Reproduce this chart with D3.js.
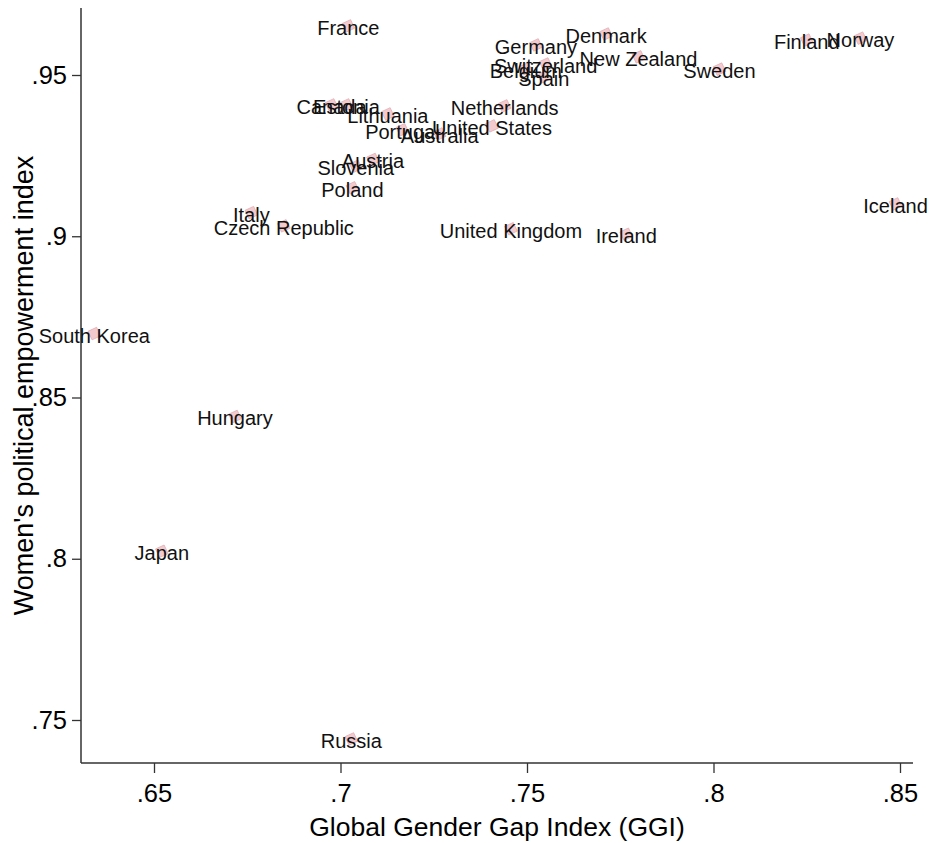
<!DOCTYPE html>
<html>
<head>
<meta charset="utf-8">
<script src="https://cdn.jsdelivr.net/npm/d3@7"></script>
<style>
  body { margin: 0; background: #fff; }
  svg { display: block; }
  text { font-family: "Liberation Sans", Arial, sans-serif; }
</style>
</head>
<body>
<svg id="chart" width="935" height="843"></svg>
<script>
const countries = ["France","Denmark","Germany","Switzerland","Belgium","Spain","New Zealand","Sweden","Finland","Norway",
  "Canada","Estonia","Lithuania","Netherlands","United States","Portugal","Australia","Austria","Slovenia","Poland",
  "Italy","Czech Republic","United Kingdom","Ireland","Iceland","South Korea","Hungary","Japan","Russia"];
const ggi = [0.7021,0.7712,0.7524,0.7550,0.7497,0.7545,0.7799,0.8016,0.8250,0.8394,
  0.6976,0.7016,0.7127,0.7440,0.7406,0.7166,0.7266,0.7087,0.7041,0.7032,
  0.6761,0.6848,0.7457,0.7766,0.8488,0.6340,0.6717,0.6521,0.7029];
const wpe = [0.9646,0.9621,0.9587,0.9528,0.9513,0.9488,0.9550,0.9512,0.9602,0.9608,
  0.9401,0.9401,0.9373,0.9398,0.9336,0.9324,0.9311,0.9232,0.9211,0.9144,
  0.9067,0.9026,0.9017,0.9000,0.9094,0.8692,0.8435,0.8017,0.7435];
const xTicks = [0.65,0.70,0.75,0.80,0.85];
const yTicks = [0.75,0.80,0.85,0.90,0.95];
const xTickLabels = [".65",".7",".75",".8",".85"];
const yTickLabels = [".75",".8",".85",".9",".95"];

const svg = d3.select("#chart");
const pLeft = 81, pRight = 913, pTop = 8, pBottom = 763;

const x = d3.scaleLinear().domain([0.65, 0.85]).range([154, 900]);
const y = d3.scaleLinear().domain([0.75, 0.95]).range([720, 75]);

// axes
const xAxis = d3.axisBottom(x).tickValues(xTicks).tickSize(10).tickPadding(12)
  .tickFormat((d,i) => xTickLabels[i]);
const gx = svg.append("g").attr("transform", `translate(0,${pBottom})`).call(xAxis);
gx.select(".domain").attr("d", `M${pLeft},0H${pRight}`);
const yAxis = d3.axisLeft(y).tickValues(yTicks).tickSize(9).tickPadding(5)
  .tickFormat((d,i) => yTickLabels[i]);
const gy = svg.append("g").attr("transform", `translate(${pLeft},0)`).call(yAxis);
gy.select(".domain").attr("d", `M0,${pTop}V${pBottom}`);

[gx, gy].forEach(g => {
  g.selectAll(".domain").attr("stroke", "#333").attr("stroke-width", 1.5);
  g.selectAll(".tick line").attr("stroke", "#333").attr("stroke-width", 1.3);
  g.selectAll(".tick text").attr("font-size", 25.5).attr("fill", "#000")
    .attr("font-family", "'Liberation Sans', Arial, sans-serif");
});
gx.selectAll(".tick text").attr("dy", "0.68em");

// axis titles
svg.append("text").attr("x", (pLeft + pRight) / 2).attr("y", 836)
  .attr("text-anchor", "middle").attr("font-size", 26.5).attr("fill", "#000")
  .text("Global Gender Gap Index (GGI)");
svg.append("text").attr("transform", `translate(33,${(pTop + pBottom) / 2}) rotate(-90)`)
  .attr("text-anchor", "middle").attr("font-size", 27).attr("fill", "#000")
  .text("Women's political empowerment index");

const idx = d3.range(countries.length);
// markers
svg.append("g").selectAll("path").data(idx).join("path")
  .attr("d", d3.symbol().type(d3.symbolDiamond).size(80))
  .attr("transform", i => `translate(${x(ggi[i])},${y(wpe[i]) - 2}) rotate(20) scale(1.4,0.8)`)
  .attr("fill", "#f2c4c9").attr("fill-opacity", 0.9)
  .attr("stroke", "#e0a8ae").attr("stroke-width", 0.6);

// labels
svg.append("g").selectAll("text").data(idx).join("text")
  .attr("x", i => x(ggi[i])).attr("y", i => y(wpe[i]))
  .attr("dy", "0.35em").attr("text-anchor", "middle")
  .attr("font-size", 20).attr("fill", "#111")
  .text(i => countries[i]);
</script>
</body>
</html>
